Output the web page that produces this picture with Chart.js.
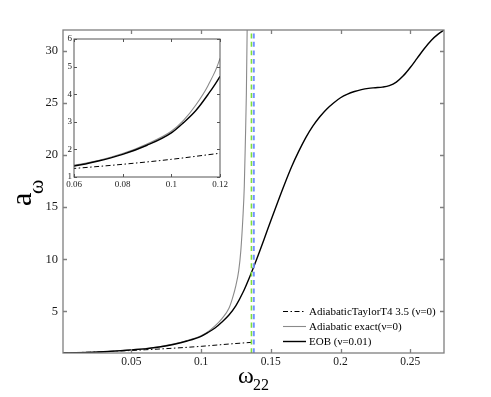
<!DOCTYPE html>
<html><head><meta charset="utf-8">
<script src="https://cdn.jsdelivr.net/npm/chart.js@4/dist/chart.umd.min.js"></script>
<style>
html,body{margin:0;padding:0;background:#fff;}
#wrap{position:relative;width:491px;height:397px;overflow:hidden;}
#main{position:absolute;left:0;top:0;}
#inset{position:absolute;left:50px;top:30px;}
</style></head><body>
<div id="wrap"><canvas id="main" width="491" height="397"></canvas><canvas id="inset" width="180" height="165"></canvas></div>
<script>
// ---- data ----
const omegaT4 = [0.001,0.02,0.04,0.06,0.08,0.1,0.12,0.136];
const aT4     = [1.0,1.08,1.18,1.31,1.46,1.64,1.86,2.02];

const omegaExact = [0.001,0.01,0.02,0.03,0.04,0.05,0.06,0.07,0.08,0.09,0.1,0.105,0.11,0.115,0.12,0.1225,0.125,0.127,0.1285,0.13,0.131,0.1318,0.1325,0.133,0.1335,0.134];
const aExact     = [1.0,1.02,1.06,1.12,1.2,1.31,1.43,1.6,1.85,2.2,2.66,3.05,3.6,4.3,5.3,6.25,7.5,8.9,10.8,14.0,17.0,21.5,26.0,31.5,38.0,48.0];

const omegaEOB = [0.001,0.01,0.02,0.03,0.04,0.05,0.06,0.07,0.08,0.09,0.1,0.105,0.11,0.115,0.12,0.125,0.13,0.135,0.14,0.145,0.15,0.155,0.16,0.165,0.17,0.175,0.18,0.185,0.19,0.195,0.2,0.205,0.21,0.215,0.22,0.225,0.23,0.235,0.24,0.245,0.25,0.255,0.26,0.265,0.27,0.2742];
const aEOB     = [1.0,1.02,1.06,1.12,1.2,1.3,1.4,1.58,1.82,2.15,2.6,2.97,3.4,3.98,4.65,5.55,6.8,8.35,10.05,11.85,13.7,15.5,17.25,18.9,20.35,21.65,22.75,23.65,24.4,25.0,25.5,25.85,26.1,26.28,26.4,26.46,26.52,26.66,27.0,27.6,28.4,29.3,30.2,31.0,31.6,32.0];

const markerGreenX = [0.1361, 0.1361];
const markerBlueX  = [0.1378, 0.1378];
const markerY      = [1, 32];

const labels = ['AdiabaticTaylorT4 3.5 (\u03bd=0)', 'Adiabatic exact(\u03bd=0)', 'EOB (\u03bd=0.01)'];

const xTicks = [0.05,0.1,0.15,0.2,0.25];
const yTicks = [5,10,15,20,25,30];
const insetXTicks = [0.06,0.08,0.1,0.12];
const insetYTicks = [1,2,3,4,5,6];

// ---- helpers ----
const zip = (xs, ys) => xs.map((x,i)=>({x, y: ys[i]}));
const serif = "'Liberation Serif','Times New Roman',serif";

function makeDatasets(withMarkers){
  const ds = [
    {label: labels[0], data: zip(omegaT4,aT4), borderColor:'#000', borderWidth:1, borderDash:[5,2.5,1.5,2.5], order:3},
    {label: labels[1], data: zip(omegaExact,aExact), borderColor:'#8a8a8a', borderWidth:1.1, order:2},
    {label: labels[2], data: zip(omegaEOB,aEOB), borderColor:'#000', borderWidth:1.4, order:1}
  ];
  if (withMarkers){
    ds.push({label:'g', data: zip(markerGreenX, markerY), borderColor:'#7fe03a', borderWidth:1.5, borderDash:[5,3.5], order:0, isMarker:true});
    ds.push({label:'b', data: zip(markerBlueX, markerY), borderColor:'#7391ff', borderWidth:2, borderDash:[5,3.5], order:0, isMarker:true});
  }
  return ds;
}

function tickMarks(chart, len, color, lw, xt, yt){
  const {ctx, chartArea:a, scales} = chart;
  ctx.save();
  ctx.strokeStyle = color; ctx.lineWidth = lw;
  ctx.beginPath();
  xt.forEach(v=>{ const px = Math.round(scales.x.getPixelForValue(v))+0.5;
    ctx.moveTo(px,a.bottom); ctx.lineTo(px,a.bottom-len);
    ctx.moveTo(px,a.top); ctx.lineTo(px,a.top+len); });
  yt.forEach(v=>{ const py = Math.round(scales.y.getPixelForValue(v))+0.5;
    ctx.moveTo(a.left,py); ctx.lineTo(a.left+len,py);
    ctx.moveTo(a.right,py); ctx.lineTo(a.right-len,py); });
  ctx.stroke();
  ctx.strokeRect(a.left, a.top, a.right-a.left, a.bottom-a.top);
  ctx.restore();
}

const mainDecor = {
  id:'mainDecor',
  afterDatasetsDraw(chart){
    const {ctx} = chart;
    tickMarks(chart, 4, '#7f7f7f', 1.3, xTicks, yTicks);
    ctx.save();
    ctx.fillStyle = '#000';
    ctx.textBaseline = 'alphabetic';
    ctx.textAlign = 'left';
    // x title
    ctx.font = '24px ' + serif;
    ctx.fillText('\u03c9', 238, 383);
    ctx.font = '16px ' + serif;
    ctx.fillText('22', 253, 390);
    // y title
    ctx.save();
    ctx.translate(31, 206);
    ctx.rotate(-Math.PI/2);
    ctx.font = '30px ' + serif;
    ctx.fillText('a', 0, 0);
    ctx.font = '22px ' + serif;
    ctx.fillText('\u03c9', 12, 12);
    ctx.restore();
    // legend
    const ds = chart.data.datasets.filter(d=>!d.isMarker);
    const rows = [311, 325.8, 340.6];
    ctx.font = '11px ' + serif;
    ctx.textBaseline = 'middle';
    ds.forEach((d,i)=>{
      const y = Math.round(rows[i]) + 0.5;
      ctx.save();
      ctx.strokeStyle = d.borderColor; ctx.lineWidth = d.borderWidth;
      ctx.setLineDash(d.borderDash || []);
      ctx.beginPath(); ctx.moveTo(283, y); ctx.lineTo(306, y); ctx.stroke();
      ctx.restore();
      ctx.fillStyle = '#000';
      ctx.fillText(d.label, 309, y + 0.5);
    });
    ctx.restore();
  }
};

new Chart(document.getElementById('main'), {
  type:'line',
  data:{datasets: makeDatasets(true)},
  options:{
    responsive:false, animation:false, devicePixelRatio:1,
    layout:{padding:{left:0, top:30, right:47, bottom:0}},
    elements:{point:{radius:0}, line:{cubicInterpolationMode:'monotone'}},
    plugins:{legend:{display:false}, tooltip:{enabled:false}},
    scales:{
      x:{type:'linear', min:0.001, max:0.2742,
         grid:{display:false, drawTicks:false}, border:{display:false},
         afterBuildTicks: s => { s.ticks = xTicks.map(v=>({value:v})); },
         afterFit: s => { s.height = 44; },
         ticks:{font:{family:serif, size:11.5}, color:'#1a1a1a', padding:2, maxRotation:0, autoSkip:false, callback: v => String(v)}},
      y:{type:'linear', min:1, max:32,
         grid:{display:false, drawTicks:false}, border:{display:false},
         afterBuildTicks: s => { s.ticks = yTicks.map(v=>({value:v})); },
         afterFit: s => { s.width = 63; },
         ticks:{font:{family:serif, size:12.5}, color:'#1a1a1a', padding:5, autoSkip:false, callback: v => String(v)}}
    }
  },
  plugins:[mainDecor]
});

const insetDecor = {
  id:'insetDecor',
  beforeDatasetsDraw(chart){
    const {ctx, chartArea:a} = chart;
    ctx.save(); ctx.fillStyle = '#fff';
    ctx.fillRect(a.left, a.top, a.right-a.left, a.bottom-a.top);
    ctx.restore();
  },
  afterDatasetsDraw(chart){
    tickMarks(chart, 3, '#555', 1, insetXTicks, insetYTicks);
  }
};

new Chart(document.getElementById('inset'), {
  type:'line',
  data:{datasets: makeDatasets(false)},
  options:{
    responsive:false, animation:false, devicePixelRatio:1,
    layout:{padding:{left:0, top:9, right:10, bottom:0}},
    elements:{point:{radius:0}, line:{cubicInterpolationMode:'monotone'}},
    plugins:{legend:{display:false}, tooltip:{enabled:false}},
    scales:{
      x:{type:'linear', min:0.06, max:0.12,
         grid:{display:false, drawTicks:false}, border:{display:false},
         afterBuildTicks: s => { s.ticks = insetXTicks.map(v=>({value:v})); },
         afterFit: s => { s.height = 18; },
         ticks:{font:{family:serif, size:9}, color:'#1a1a1a', padding:2, maxRotation:0, autoSkip:false, callback: v => String(v)}},
      y:{type:'linear', min:1, max:6,
         grid:{display:false, drawTicks:false}, border:{display:false},
         afterBuildTicks: s => { s.ticks = insetYTicks.map(v=>({value:v})); },
         afterFit: s => { s.width = 24; },
         ticks:{font:{family:serif, size:9}, color:'#1a1a1a', padding:2, autoSkip:false, callback: v => String(v)}}
    }
  },
  plugins:[insetDecor]
});
</script>
</body></html>
